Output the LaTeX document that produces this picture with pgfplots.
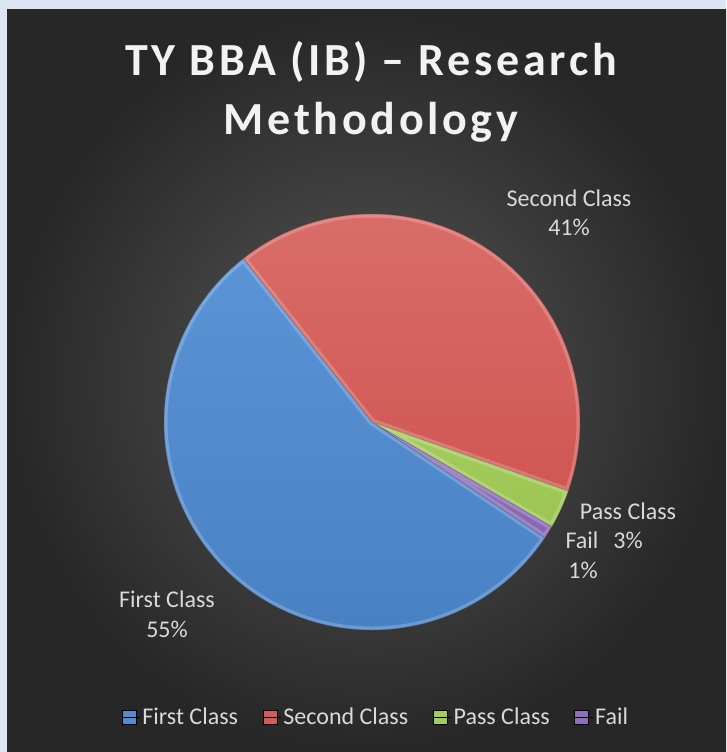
\documentclass[border=0pt]{standalone}
\usepackage{fontspec}
\setmainfont{Carlito}
\newfontfamily\titlefont[LetterSpace=8]{Carlito}
\usepackage{pgfplots}
\pgfplotsset{compat=1.18}
\usepackage{pgfplotstable}

\definecolor{bordercol}{HTML}{DCE6F2}
\definecolor{bgin}{HTML}{575757}
\definecolor{bgout}{HTML}{272727}
\definecolor{titlecol}{HTML}{F2F2F2}
\definecolor{labcol}{HTML}{D9D9D9}
\definecolor{blueA}{HTML}{5E97D8}
\definecolor{blueB}{HTML}{4880C4}
\definecolor{redA}{HTML}{DA6E6A}
\definecolor{redB}{HTML}{CB4A47}
\definecolor{greenA}{HTML}{B6D971}
\definecolor{greenB}{HTML}{93BE48}
\definecolor{purA}{HTML}{9E80C6}
\definecolor{purB}{HTML}{7F5FAE}

\pgfplotstableread{
label value
First 55
Second 41
Pass 3
Fail 1
}\piedata

\begin{document}
\begin{tikzpicture}
% background
\fill[bordercol] (0pt,0pt) rectangle (726pt,-752pt);
\shade[inner color=bgin, outer color=bgout] (7pt,-10pt) rectangle (726pt,-752pt);

\pgfplotstablegetelem{0}{value}\of\piedata \pgfmathsetmacro{\vA}{\pgfplotsretval}
\pgfplotstablegetelem{1}{value}\of\piedata \pgfmathsetmacro{\vB}{\pgfplotsretval}
\pgfplotstablegetelem{2}{value}\of\piedata \pgfmathsetmacro{\vC}{\pgfplotsretval}
\pgfplotstablegetelem{3}{value}\of\piedata \pgfmathsetmacro{\vD}{\pgfplotsretval}
\pgfmathsetmacro{\tot}{\vA+\vB+\vC+\vD}
\pgfmathsetmacro{\aS}{-33.8}
\pgfmathsetmacro{\aA}{\aS-\vA/\tot*360}
\pgfmathsetmacro{\aB}{\aA-\vB/\tot*360}
\pgfmathsetmacro{\aC}{\aB-\vC/\tot*360}
\pgfmathsetmacro{\aD}{\aC-\vD/\tot*360}

\newcommand{\slice}[4]{%
  \begin{scope}
    \clip (axis cs:372,-422) -- ++(#1:208pt) arc[start angle=#1, end angle=#2, radius=208pt] -- cycle;
    \shade[top color=#3, bottom color=#4] (axis cs:150,-200) rectangle (axis cs:594,-644);
    \draw[line width=7pt, white, opacity=0.2] (axis cs:372,-422) -- ++(#1:208pt) arc[start angle=#1, end angle=#2, radius=208pt] -- cycle;
    \draw[line width=0.8pt, #4!70!black, opacity=0.5] (axis cs:372,-422) -- ++(#1:208pt) arc[start angle=#1, end angle=#2, radius=208pt] -- cycle;
  \end{scope}}

\begin{axis}[
  at={(0pt,0pt)}, anchor=north west,
  x=1pt, y=1pt, scale only axis,
  xmin=0, xmax=726, ymin=-752, ymax=0,
  hide axis, clip=false,
  legend columns=4,
  legend image code/.code={\fill[#1] (0pt,-7pt) rectangle (14pt,7pt); \path (0pt,0pt) -- (18pt,0pt);},
  legend style={draw=none, fill=none, text=labcol,
    font=\fontsize{24}{28}\selectfont,
    at={(0.518,0.046)}, anchor=center,
    inner sep=0pt, column sep=0pt,
    nodes={inner sep=2.5pt},
    /tikz/every even column/.append style={column sep=22pt}},
]
\slice{\aS}{\aA}{blueA}{blueB}
\slice{\aA}{\aB}{redA}{redB}
\slice{\aB}{\aC}{greenA}{greenB}
\slice{\aC}{\aD}{purA}{purB}

\addlegendimage{fill=blueA!50!blueB}
\addlegendimage{fill=redA!50!redB}
\addlegendimage{fill=greenA!50!greenB}
\addlegendimage{fill=purA!50!purB}
\legend{First Class, Second Class, Pass Class, Fail}

% title
\node[anchor=base, text=titlecol, font=\titlefont\bfseries\fontsize{46}{56}\selectfont] at (axis cs:371,-75) {TY BBA (IB) – Research};
\node[anchor=base, text=titlecol, font=\titlefont\bfseries\fontsize{46}{56}\selectfont] at (axis cs:371,-134) {Methodology};

% data labels
\tikzset{lab/.style={anchor=base, text=labcol, inner sep=0pt, font=\fontsize{24}{29}\selectfont}}
\node[lab] at (axis cs:569,-206) {Second Class};
\node[lab] at (axis cs:569,-235) {41\%};
\node[lab] at (axis cs:628,-519) {Pass Class};
\node[lab] at (axis cs:628,-548) {3\%};
\node[lab] at (axis cs:582,-548) {Fail};
\node[lab] at (axis cs:583,-578) {1\%};
\node[lab] at (axis cs:167,-607) {First Class};
\node[lab] at (axis cs:167,-637) {55\%};
\end{axis}
\end{tikzpicture}
\end{document}
